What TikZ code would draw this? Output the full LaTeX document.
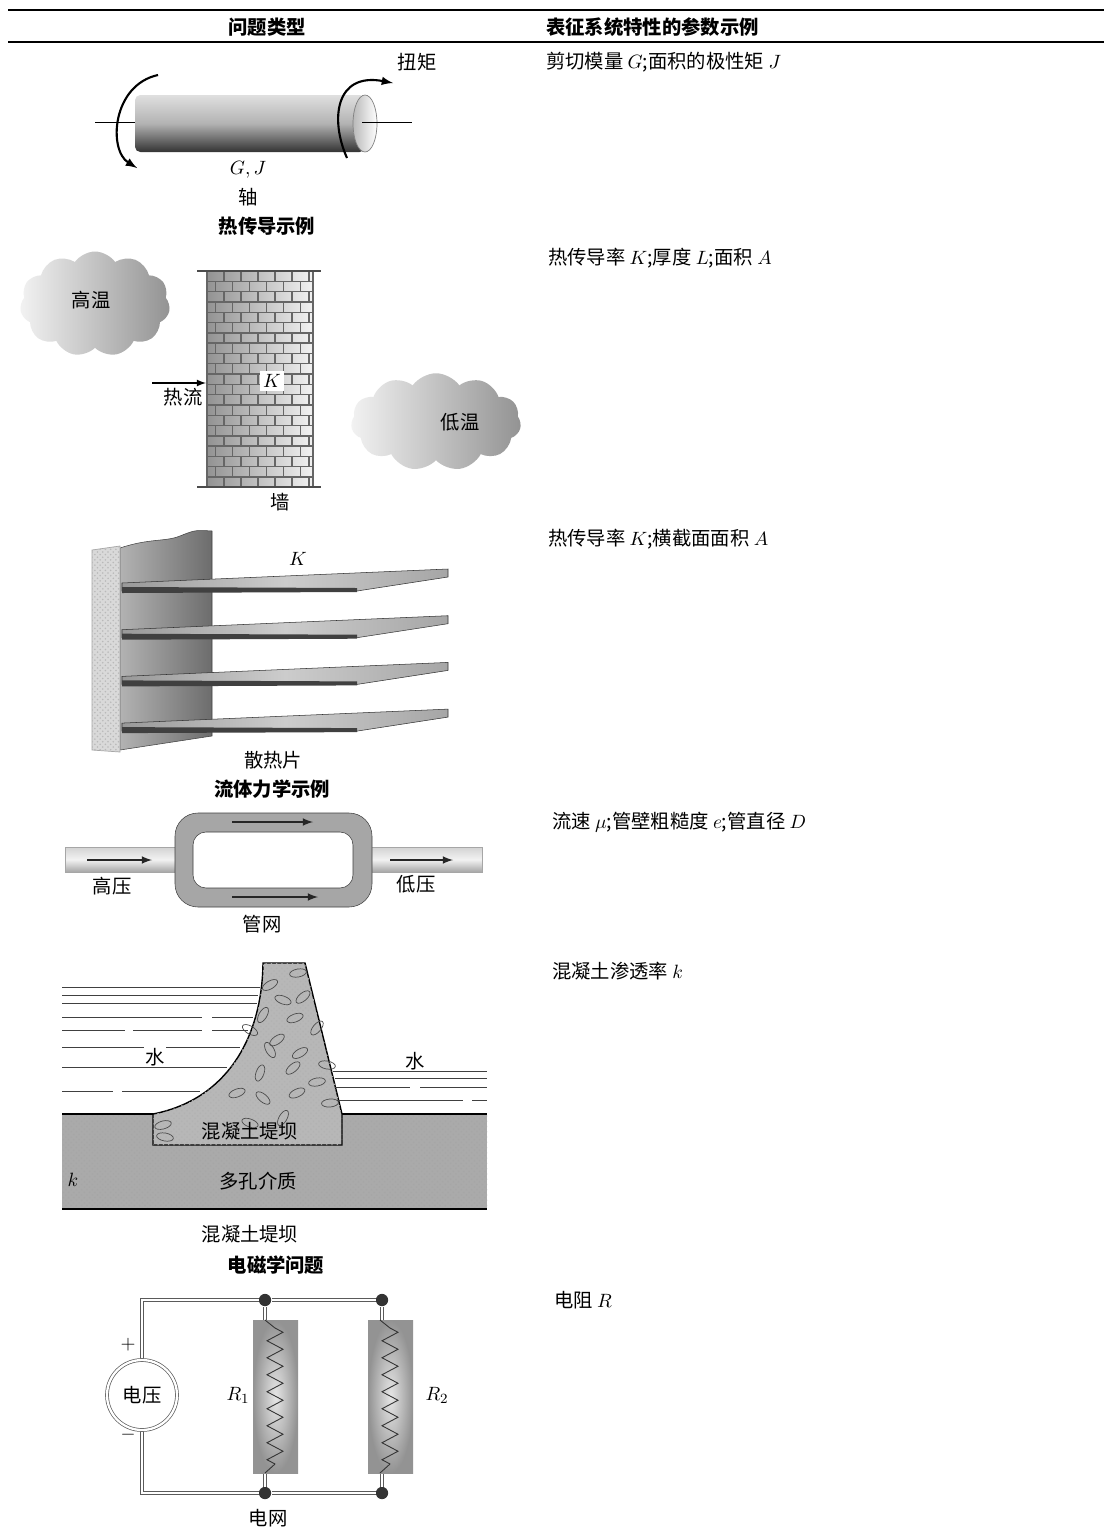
\documentclass[tikz,border=0pt]{standalone}
\usepackage{fontspec}
\newfontfamily\cjk{Noto Sans CJK SC}
\usetikzlibrary{arrows, positioning, shapes.symbols, decorations.pathmorphing, patterns}
\definecolor{wire}{RGB}{90,90,90}
\definecolor{stone}{RGB}{170,170,170}

\begin{document}
\begin{tikzpicture}
    [
        x=0.02cm, y=-0.02cm, >=latex',
        txt/.style={font=\cjk\fontsize{11}{13}\selectfont, inner sep=1pt},
        head/.style={font=\cjk\bfseries\fontsize{11}{13}\selectfont, inner sep=1pt},
        param/.style={txt, anchor=west},
        cloudy/.style={cloud, cloud puffs=11, cloud puff arc=110, draw=none},
        pipe/.style={top color=gray!35, bottom color=gray!70, middle color=gray!10, draw=gray!70},
        fin/.style={left color=gray!80, right color=gray!70, middle color=gray!40, draw=gray!40!black, line width=0.3pt},
        dot/.style={fill=black!80,shape=circle,minimum size=7pt,inner sep=0pt}
    ]
    \tikzstyle{line} = [draw, line width=1.2pt, -latex]
    \tikzstyle{mortar} = [draw=black!60, line width=0.8pt]
    \tikzstyle{wires} = [draw=wire, line width=0.5pt, double=white, double distance=1.3pt]
    \tikzstyle{water} = [draw=black!75, line width=0.5pt]

    \fill[white] (0,0) rectangle (1104,1535);
    \useasboundingbox (0,0) rectangle (1104,1535);

    \draw[line width=1.2pt] (8,10) -- (1104,10);
    \draw[line width=0.6pt] (8,42) -- (1104,42);
    \node[head] (h_type) at (267,27) {问题类型};
    \node[head, anchor=west] (h_param) at (544,27) {表征系统特性的参数示例};

    \node[param] (p_shaft) at (544,62) {剪切模量 $G$;面积的极性矩 $J$};
    \node[param] (p_wall) at (546,258) {热传导率 $K$;厚度 $L$;面积 $A$};
    \node[param] (p_fin) at (546,539) {热传导率 $K$;横截面面积 $A$};
    \node[param] (p_pipe) at (550,822) {流速 $\mu$;管壁粗糙度 $e$;管直径 $D$};
    \node[param] (p_dam) at (550,971) {混凝土渗透率 $k$};
    \node[param] (p_circ) at (552,1300) {电阻 $R$};

    \draw[line width=0.5pt] (95,122) -- (140,122);
    \shade[top color=gray!25, bottom color=black!80, middle color=gray!60, rounded corners=3pt]
        (135,95) rectangle (365,152);
    \shade[left color=gray!55, right color=white, draw=gray] (365,123.5) ellipse [x radius=0.24cm, y radius=0.57cm];
    \draw[line width=0.5pt] (362,122) -- (412,122);
    \draw[line] (158,75) .. controls (112,85) and (108,150) .. (137,168);
    \draw[line] (347,158) .. controls (330,120) and (335,72) .. (393,83);
    \node[txt] (torque) at (417,62) {扭矩};
    \node[txt] (gj) at (248,170) {$G,J$};
    \node[txt, below of=gj, node distance=0.54cm] (shaft) {轴};
    \node[head] (ex_heat) at (267,226) {热传导示例};

    \node[cloudy, aspect=1.4, minimum width=3cm, minimum height=2.1cm, left color=gray!10, right color=gray!85] (hot) at (95,304) {};
    \node[txt] (hot_lbl) at (91,300) {高温};
    \node[cloudy, aspect=1.7, minimum width=3.4cm, minimum height=1.95cm, left color=gray!10, right color=gray!85] (cold) at (436,422) {};
    \node[txt] (cold_lbl) at (460,422) {低温};

    \shade[left color=gray!85, right color=gray!10] (207,271) rectangle (313,487);
    \begin{scope}
        \clip (207,271) rectangle (313,487);
        \foreach \r in {0,...,20} {
            \draw[mortar] (207,271+\r*10.3) -- (313,271+\r*10.3);
            \pgfmathsetmacro\off{mod(\r,2)*8.5}
            \foreach \c in {0,...,6}
                \draw[mortar] (207+\off+\c*17,271+\r*10.3) -- ++(0,10.3);
        }
    \end{scope}
    \draw[mortar] (207,271) rectangle (313,487);
    \draw[line width=1.2pt, black!70] (197,271) -- (321,271);
    \draw[line width=1.2pt, black!70] (197,487) -- (321,487);
    \node[txt, fill=white, inner sep=2pt] (wall_k) at (272,381) {$K$};
    \node[coordinate] (flow_in) at (152,383) {};
    \node[coordinate] (wall_w) at (206,383) {};
    \path[line, line width=0.8pt] (flow_in) -- (wall_w);
    \node[txt] (flow) at (183,397) {热流};
    \node[coordinate] (wall_base) at (280,489) {};
    \node[txt, below=1pt of wall_base] (wall) {墙};

    \shade[left color=gray!60, right color=gray!85!black, draw=gray!50!black, line width=0.3pt]
        (120,548) .. controls (150,538) and (165,542) .. (180,536) .. controls (195,530) .. (212,531)
        -- (212,736) -- (120,750) -- cycle;
    \fill[gray!30, draw=gray!70, line width=0.4pt] (92,550) -- (120,546) -- (120,752) -- (92,750) -- cycle;
    \fill[pattern=crosshatch dots, pattern color=gray!55] (92,550) -- (120,546) -- (120,752) -- (92,750) -- cycle;
    \foreach \i in {0,1,2,3} {
        \shade[fin] (122,583+\i*46.7) -- (448,569+\i*46.7) -- (448,577+\i*46.7) -- (357,591+\i*46.7) -- (122,591+\i*46.7) -- cycle;
        \fill[black!75] (122,587+\i*46.7) -- (357,588+\i*46.7) -- (357,592+\i*46.7) -- (122,593+\i*46.7) -- cycle;
    }
    \node[txt] (fin_k) at (298,559) {$K$};
    \node[txt] (fins) at (273,760) {散热片};
    \node[head] (ex_fluid) at (272,789) {流体力学示例};

    \shade[pipe] (65,847) rectangle (180,872);
    \shade[pipe] (368,847) rectangle (482,872);
    \fill[gray!70, even odd rule, draw=gray!50!black, line width=0.3pt]
        [rounded corners=0.46cm] (175,813) rectangle (372,907)
        [rounded corners=0.26cm] (193,832) rectangle (353,888);
    \foreach \ya/\xa/\xb in {822/232/313, 897/232/318, 860/87/152, 860/390/453}
        \draw[line, line width=1pt, black!85] (\xa,\ya) -- (\xb,\ya);
    \node[txt] (high_p) at (112,886) {高压};
    \node[txt] (low_p) at (416,884) {低压};
    \node[txt] (net) at (262,924) {管网};

    \fill[stone] (62,1114) rectangle (487,1209);
    \fill[pattern=crosshatch dots, pattern color=gray!70] (62,1114) rectangle (487,1209);
    \draw[line width=0.8pt] (62,1114) -- (487,1114);
    \draw[line width=0.8pt] (62,1209) -- (487,1209);
    \path[fill=stone!85, draw=black, line width=0.8pt] (153,1145) -- (153,1114)
        .. controls (225,1100) and (262,1040) .. (263,963) -- (305,963) -- (342,1114) -- (342,1145) -- cycle;
    \fill[pattern=crosshatch dots, pattern color=gray!60] (153,1145) -- (153,1114)
        .. controls (225,1100) and (262,1040) .. (263,963) -- (305,963) -- (342,1114) -- (342,1145) -- cycle;
    \foreach \px/\py/\pa in {298/973/10, 270/985/30, 283/1000/-20, 303/997/40, 263/1015/60,
            295/1018/20, 250/1030/-30, 317/1028/50, 277/1040/35, 270/1050/-60, 300/1053/30,
            327/1065/-10, 260/1073/70, 293/1068/40, 317/1082/10, 237/1093/20, 263/1098/-40,
            297/1093/25, 330/1103/5, 283/1118/60, 250/1123/-20, 163/1125/15, 165/1137/-10}
        \draw[black!70, line width=0.4pt, rotate around={\pa:(\px,\py)}] (\px,\py) ellipse [x radius=0.17cm, y radius=0.08cm];
    \foreach \wy/\xa/\xb in {987/62/260, 995/62/258, 1003/62/257, 1017/62/202, 1017/212/253,
            1030/62/125, 1030/133/202, 1030/212/248, 1047/62/240, 1067/62/227,
            1091/62/113, 1091/122/200,
            1071/333/487, 1078/335/487, 1087/335/410, 1087/420/487, 1100/337/463, 1100/472/487}
        \draw[water] (\xa,\wy) -- (\xb,\wy);
    \node[txt, fill=white, inner sep=0.5pt] (water_l) at (155,1057) {水};
    \node[txt, fill=white, inner sep=0.5pt] (water_r) at (415,1061) {水};
    \node[txt] (dam_in) at (250,1131) {混凝土堤坝};
    \node[txt] (porous) at (258,1181) {多孔介质};
    \node[txt] (perm) at (73,1180) {$k$};
    \node[txt] (dam) at (250,1234) {混凝土堤坝};
    \node[head] (ex_em) at (276,1265) {电磁学问题};

    \node[coordinate] (src_top) at (142,1360) {};
    \node[coordinate] (src_bot) at (142,1430) {};
    \node[dot] (j1t) at (265,1300) {};
    \node[dot] (j2t) at (382,1300) {};
    \node[dot] (j1b) at (265,1493) {};
    \node[dot] (j2b) at (382,1493) {};
    \path[wires] (src_top) |- (j1t) -- (j2t);
    \path[wires] (src_bot) |- (j1b) -- (j2b);
    \path[wires] (j1t) -- (j1b);
    \path[wires] (j2t) -- (j2b);
    \node[draw=wire, double=white, double distance=1.3pt, circle, minimum size=1.4cm, fill=white, txt] (volt) at (142,1395) {电压};
    \foreach \rx/\nm in {253/r1, 368/r2} {
        \shade[inner color=gray!20, outer color=gray!85, draw=none] (\rx,1320) rectangle (\rx+45,1473);
        \draw[black!80, line width=0.5pt, decorate, decoration={zigzag, segment length=0.34cm, amplitude=0.16cm}]
            (\rx+22,1328) -- (\rx+22,1464);
        \draw[black!80, line width=0.5pt] (\rx+12,1320) -- (\rx+22,1328);
        \draw[black!80, line width=0.5pt] (\rx+22,1464) -- (\rx+12,1473);
    }
    \node[txt] (plus) at (128,1345) {$+$};
    \node[txt] (minus) at (128,1435) {$-$};
    \node[txt] (r1) at (238,1395) {$R_1$};
    \node[txt] (r2) at (437,1395) {$R_2$};
    \node[txt] (grid) at (268,1518) {电网};
\end{tikzpicture}
\end{document}
